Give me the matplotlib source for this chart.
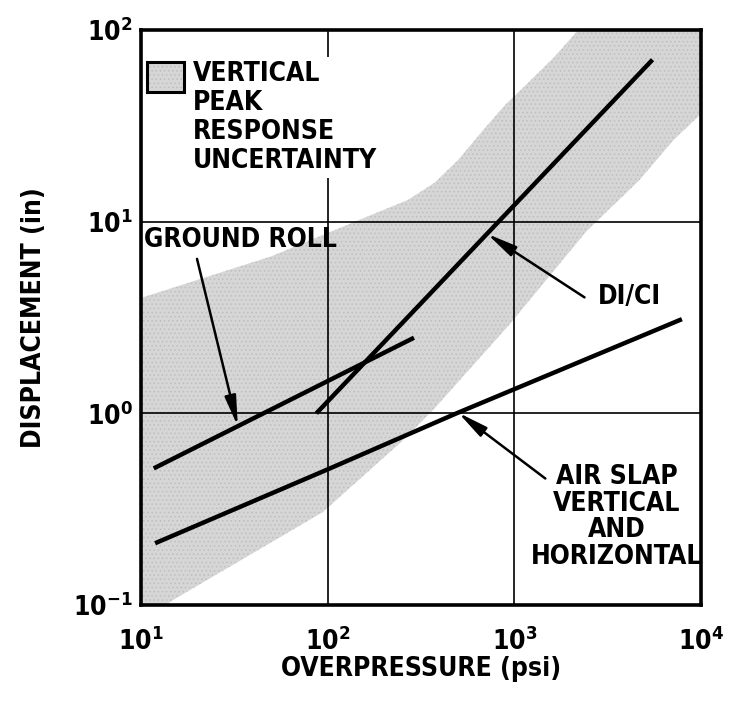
import numpy as np
import matplotlib
matplotlib.use("Agg")
import matplotlib.pyplot as plt
from matplotlib.patches import Rectangle
from matplotlib.ticker import NullLocator, FixedLocator, FixedFormatter

# ---- data -------------------------------------------------------------
# vertical peak response uncertainty band (upper and lower edges)
band_upper_x = [10, 50, 140, 270, 375, 500, 680, 900, 1160, 1630, 2200, 10000]
band_upper_y = [4.0, 6.6, 10.0, 13.0, 16.0, 21.0, 30.0, 41.0, 52.0, 72.0, 100.0, 100.0]
band_lower_x = [10, 14.8, 94, 166, 252, 370, 940, 2430, 4660, 7080, 10000]
band_lower_y = [0.08, 0.106, 0.305, 0.50, 0.72, 1.05, 2.9, 8.9, 16.4, 26.5, 36.5]

# response curves
ground_roll_x = [11.7, 290]
ground_roll_y = [0.516, 2.48]
dici_x = [87, 5500]
dici_y = [1.0, 70.0]
air_slap_x = [11.9, 100, 490, 7900]
air_slap_y = [0.21, 0.51, 1.0, 3.1]

x_ticks = [10, 100, 1000, 10000]
x_tick_labels = [r"$10^{1}$", r"$10^{2}$", r"$10^{3}$", r"$10^{4}$"]
y_ticks = [0.1, 1, 10, 100]
y_tick_labels = [r"$10^{-1}$", r"$10^{0}$", r"$10^{1}$", r"$10^{2}$"]

# ---- style ------------------------------------------------------------
MATH_FONT = "DejaVu Sans:weight=bold:stretch=condensed"
plt.rcParams["font.family"] = ["DejaVu Sans"]
plt.rcParams["font.weight"] = "bold"
plt.rcParams["font.stretch"] = "condensed"
plt.rcParams["mathtext.fontset"] = "custom"
plt.rcParams["mathtext.rm"] = MATH_FONT
plt.rcParams["mathtext.it"] = MATH_FONT
plt.rcParams["mathtext.bf"] = MATH_FONT
plt.rcParams["mathtext.default"] = "rm"
plt.rcParams["hatch.linewidth"] = 0.6

FS = 19
BAND_FACE = "#d6d6d6"
BAND_HATCH = "#bebebe"


def on_curve(xs, ys, x):
    """Value of a log-log polyline at x."""
    return 10 ** np.interp(np.log10(x), np.log10(xs), np.log10(ys))


fig = plt.figure(figsize=(7.32, 7.01), dpi=100)
ax = fig.add_axes([141 / 732, 96 / 701, 560 / 732, 575 / 701])
ax.set_xscale("log")
ax.set_yscale("log")
ax.set_xlim(10, 1e4)
ax.set_ylim(0.1, 100)

# uncertainty band
poly_x = list(band_upper_x) + list(band_lower_x[::-1])
poly_y = list(band_upper_y) + list(band_lower_y[::-1])
ax.fill(poly_x, poly_y, facecolor=BAND_FACE, edgecolor=BAND_HATCH,
        hatch="....", linewidth=0, zorder=1)

# curves
for xs, ys in [(ground_roll_x, ground_roll_y), (dici_x, dici_y),
               (air_slap_x, air_slap_y)]:
    ax.plot(xs, ys, color="black", lw=3.2, solid_capstyle="butt", zorder=3)

# axes, grid, ticks
ax.xaxis.set_major_locator(FixedLocator(x_ticks))
ax.xaxis.set_major_formatter(FixedFormatter(x_tick_labels))
ax.yaxis.set_major_locator(FixedLocator(y_ticks))
ax.yaxis.set_major_formatter(FixedFormatter(y_tick_labels))
ax.xaxis.set_minor_locator(NullLocator())
ax.yaxis.set_minor_locator(NullLocator())
ax.tick_params(which="both", length=0, labelsize=FS)
ax.tick_params(axis="x", pad=16)
ax.tick_params(axis="y", pad=6)
ax.grid(True, which="major", color="black", lw=1.2)
for sp in ax.spines.values():
    sp.set_linewidth(2.6)

ax.set_xlabel("OVERPRESSURE (psi)", fontsize=FS, fontweight="bold")
ax.set_ylabel("DISPLACEMENT (in)", fontsize=FS, fontweight="bold")
ax.xaxis.set_label_coords(0.5, -0.088)
ax.yaxis.set_label_coords(-0.168, 0.5)

# legend key for the band
ax.add_patch(Rectangle((0.011, 0.892), 0.066, 0.052, transform=ax.transAxes,
                       facecolor=BAND_FACE, edgecolor=BAND_HATCH, lw=0,
                       hatch="....", zorder=5))
ax.add_patch(Rectangle((0.011, 0.892), 0.066, 0.052, transform=ax.transAxes,
                       facecolor="none", edgecolor="black", lw=2.2, zorder=6))
ax.text(0.093, 0.946, "VERTICAL\nPEAK\nRESPONSE\nUNCERTAINTY",
        transform=ax.transAxes, ha="left", va="top", fontsize=FS,
        fontweight="bold", linespacing=1.15, zorder=5,
        bbox=dict(facecolor="white", edgecolor="none", pad=3))

# annotations
arrow = dict(arrowstyle="-|>,head_length=0.9,head_width=0.17",
             color="black", lw=1.8, mutation_scale=20, shrinkA=0, shrinkB=0)

ax.text(0.005, 0.657, "GROUND ROLL", transform=ax.transAxes, ha="left",
        va="top", fontsize=FS, fontweight="bold", zorder=5)
gx = 33
ax.annotate("", xy=(gx, on_curve(ground_roll_x, ground_roll_y, gx)),
            xytext=(0.10, 0.602), textcoords="axes fraction",
            arrowprops=arrow, zorder=5)

ax.text(0.872, 0.535, "DI/CI", transform=ax.transAxes, ha="center",
        va="center", fontsize=FS, fontweight="bold", zorder=5)
dx = 714
ax.annotate("", xy=(dx, on_curve(dici_x, dici_y, dx)),
            xytext=(0.792, 0.535), textcoords="axes fraction",
            arrowprops=arrow, zorder=5)

ax.text(0.849, 0.245, "AIR SLAP\nVERTICAL\nAND\nHORIZONTAL",
        transform=ax.transAxes, ha="center", va="top", fontsize=FS,
        fontweight="bold", linespacing=1.03, multialignment="center", zorder=5)
axx = 500
ax.annotate("", xy=(axx, on_curve(air_slap_x, air_slap_y, axx)),
            xytext=(0.722, 0.220), textcoords="axes fraction",
            arrowprops=arrow, zorder=5)

fig.savefig("out.png", dpi=100, facecolor="white")
